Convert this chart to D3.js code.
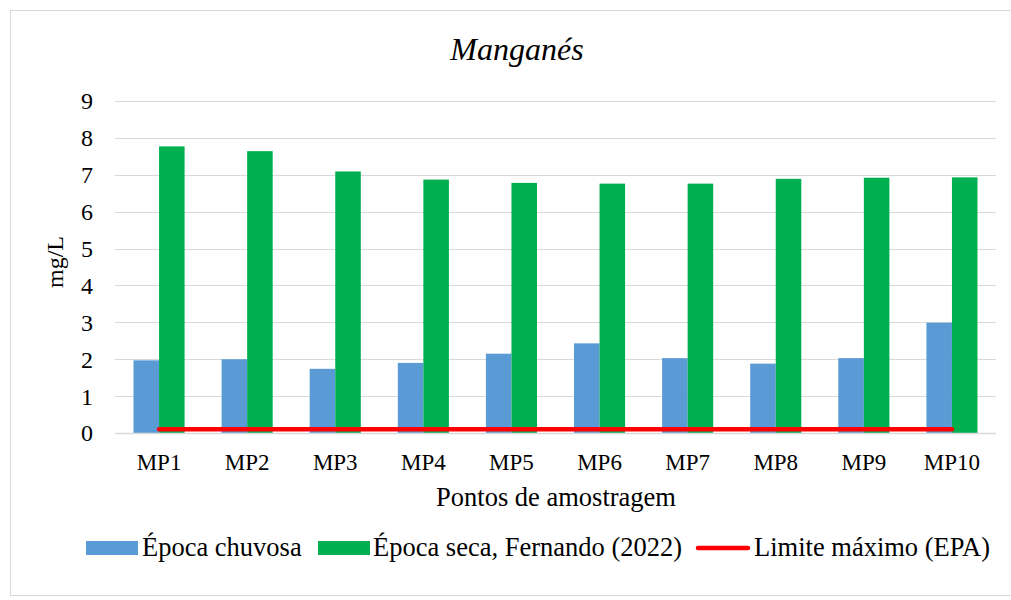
<!DOCTYPE html>
<html><head><meta charset="utf-8">
<script src="https://cdn.jsdelivr.net/npm/d3@7"></script>
<style>body{margin:0;background:#fff}svg{display:block}</style>
</head><body><svg id="c" width="1011" height="600"></svg>
<script>
const categories = ["MP1","MP2","MP3","MP4","MP5","MP6","MP7","MP8","MP9","MP10"];
const chuvosa = [1.97,2.00,1.74,1.90,2.15,2.43,2.03,1.88,2.03,2.99];
const seca = [7.77,7.64,7.09,6.87,6.78,6.76,6.76,6.89,6.92,6.93];
const limite = [0.1,0.1,0.1,0.1,0.1,0.1,0.1,0.1,0.1,0.1];
const yTicks = [0,1,2,3,4,5,6,7,8,9];
const seriesNames = ["Época chuvosa","Época seca, Fernando (2022)","Limite máximo (EPA)"];
const colors = ["#5b9bd5","#00b050","#ff0000"];
const FONT = "'Liberation Serif','Times New Roman',serif";

const svg = d3.select("#c").attr("font-family",FONT);
svg.append("rect").attr("x",10.5).attr("y",10.5).attr("width",1010).attr("height",585)
  .attr("fill","#fff").attr("stroke","#d9d9d9").attr("stroke-width",1);

const L=115, R=996, T=101, B=433;
const x = d3.scaleBand().domain(categories).range([L,R]).paddingInner(0.42).paddingOuter(0.21);
const x0 = d3.scaleBand().domain(categories).range([L,R]);
const xs = d3.scaleBand().domain([0,1]).range([0,x.bandwidth()]);
const y = d3.scaleLinear().domain([0,9]).range([B,T]);

// gridlines
svg.append("g").selectAll("line").data(yTicks.filter(d=>d>0)).join("line")
  .attr("x1",L).attr("x2",R).attr("y1",d=>Math.round(y(d))+0.5).attr("y2",d=>Math.round(y(d))+0.5)
  .attr("stroke","#d9d9d9").attr("stroke-width",1);

// y labels
svg.append("g").selectAll("text").data(yTicks).join("text")
  .attr("x",93).attr("y",d=>y(d)).attr("dy","0.35em").attr("text-anchor","end")
  .attr("font-family",FONT).attr("font-size",24).text(d=>d);

// bars
const g = svg.append("g");
g.selectAll(".b1").data(categories).join("rect")
  .attr("x",(d)=>x(d)+xs(0)).attr("width",xs.bandwidth())
  .attr("y",(d,i)=>y(chuvosa[i])).attr("height",(d,i)=>B-y(chuvosa[i])).attr("fill",colors[0]);
g.selectAll(".b2").data(categories).join("rect")
  .attr("x",(d)=>x(d)+xs(1)).attr("width",xs.bandwidth())
  .attr("y",(d,i)=>y(seca[i])).attr("height",(d,i)=>B-y(seca[i])).attr("fill",colors[1]);

// axis line
svg.append("line").attr("x1",L).attr("x2",R).attr("y1",B+0.5).attr("y2",B+0.5)
  .attr("stroke","#d9d9d9").attr("stroke-width",1.5);

// red line
const line = d3.line().x((d,i)=>x0(categories[i])+x0.bandwidth()/2).y(d=>y(d));
svg.append("path").datum(limite).attr("d",line).attr("fill","none")
  .attr("stroke",colors[2]).attr("stroke-width",4.5).attr("stroke-linecap","round");

// x labels
svg.append("g").selectAll("text").data(categories).join("text")
  .attr("x",d=>x0(d)+x0.bandwidth()/2).attr("y",470).attr("text-anchor","middle")
  .attr("font-family",FONT).attr("font-size",23).text(d=>d);

// titles
svg.append("text").attr("x",517).attr("y",60).attr("text-anchor","middle")
  .attr("font-family",FONT).attr("font-size",32).attr("font-style","italic").text("Manganés");
svg.append("text").attr("x",556).attr("y",506).attr("text-anchor","middle")
  .attr("font-family",FONT).attr("font-size",26.5).text("Pontos de amostragem");
svg.append("text").attr("transform","translate(63,262) rotate(-90)").attr("text-anchor","middle")
  .attr("font-family",FONT).attr("font-size",24).text("mg/L");

// legend
const leg = svg.append("g").attr("font-family",FONT).attr("font-size",26.5);
leg.append("rect").attr("x",86).attr("y",541).attr("width",52).attr("height",14).attr("fill",colors[0]);
leg.append("text").attr("x",142).attr("y",556).text(seriesNames[0]);
leg.append("rect").attr("x",318).attr("y",541).attr("width",52).attr("height",14).attr("fill",colors[1]);
leg.append("text").attr("x",373).attr("y",556).text(seriesNames[1]);
leg.append("line").attr("x1",698).attr("x2",748).attr("y1",548).attr("y2",548)
  .attr("stroke",colors[2]).attr("stroke-width",4.5).attr("stroke-linecap","round");
leg.append("text").attr("x",754).attr("y",556).text(seriesNames[2]);
</script></body></html>
